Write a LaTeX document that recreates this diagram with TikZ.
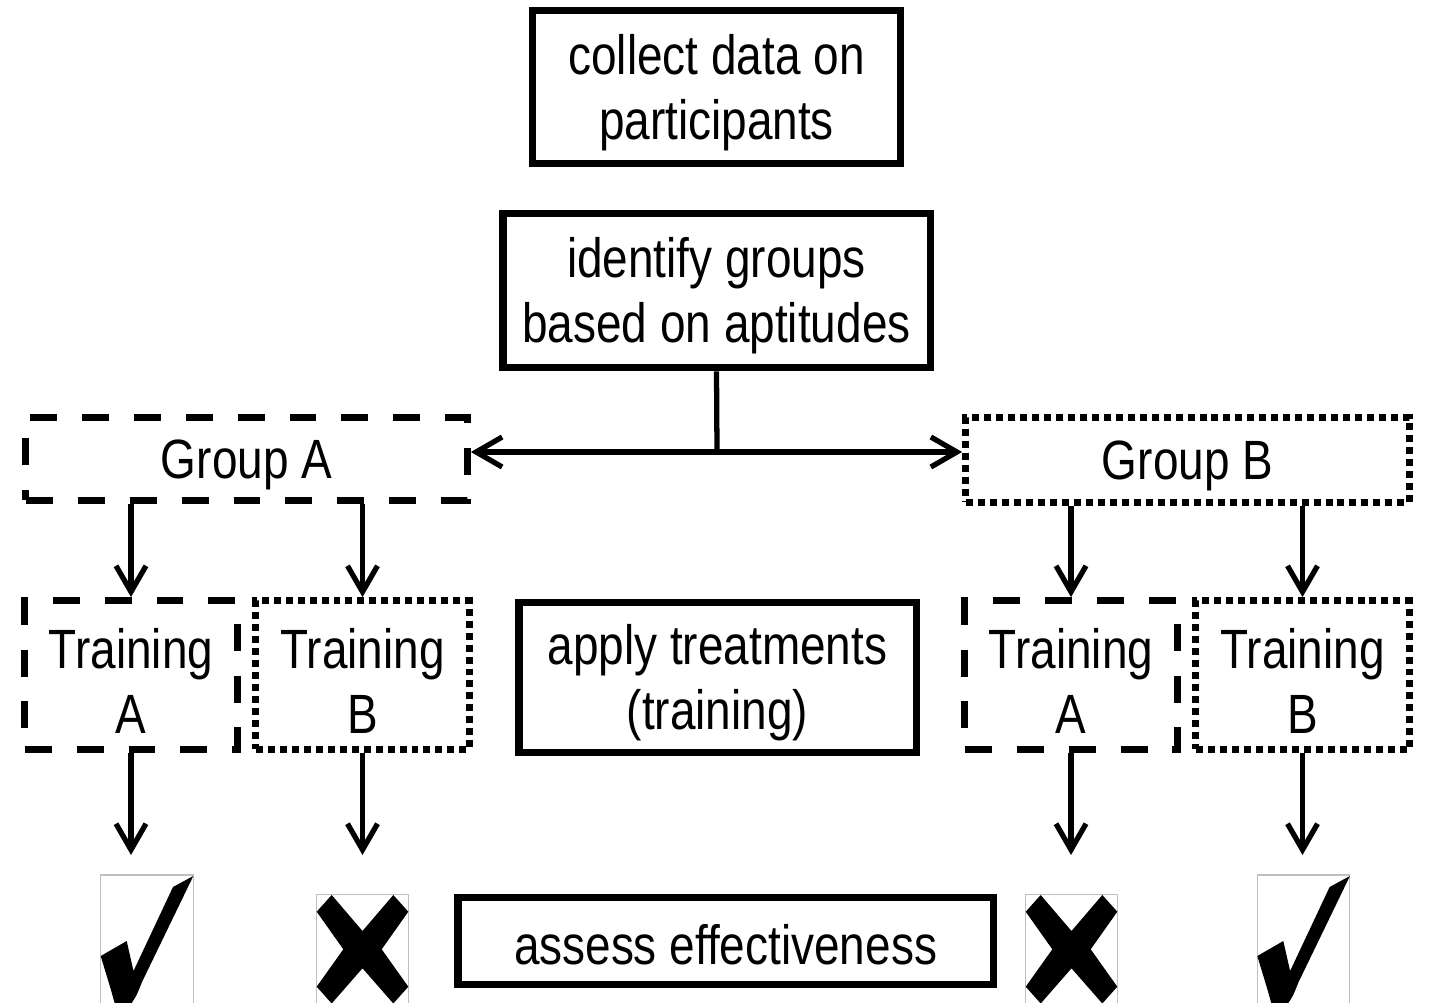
\documentclass[tikz,border=0pt]{standalone}
\usepackage{fontspec}
\setmainfont{Liberation Sans}[FakeStretch=0.83]
\usetikzlibrary{arrows.meta}
\tikzset{
  box/.style={draw, line width=4.5pt, inner sep=0pt},
  dashbox/.style={draw, inner sep=0pt, line width=3.9pt, dash pattern=on 0.54cm off 0.50cm},
  dotbox/.style={draw, inner sep=0pt, line width=3.9pt, dash pattern=on 0.14cm off 0.10cm},
  txt/.style={align=center, inner sep=0pt, font=\fontsize{31.5pt}{37pt}\selectfont},
  conn/.style={line width=3pt},
  arr/.style={conn, -{Straight Barb[length=0.52cm, width=0.6cm, line width=3pt]}},
  iconframe/.style={draw=black!25, line width=0.6pt},
}
\begin{document}
\begin{tikzpicture}[x=0.02cm, y=-0.02cm]
\useasboundingbox[fill=white] (0,0) rectangle (1429,1003);

% boxes
\node[box, minimum width=7.36cm, minimum height=3.06cm] (c1) at (716.5,87) {};
\node[box, minimum width=8.56cm, minimum height=3.08cm] (c2) at (716.5,290.5) {};
\node[dashbox, minimum width=8.84cm, minimum height=1.66cm] (gA) at (246.5,459) {};
\node[dotbox, minimum width=8.88cm, minimum height=1.70cm] (gB) at (1187.5,460) {};
\node[dashbox, minimum width=4.26cm, minimum height=2.98cm] (tAL) at (131,675) {};
\node[dotbox, minimum width=4.28cm, minimum height=2.98cm] (tBL) at (362.5,675) {};
\node[box, minimum width=7.96cm, minimum height=3.00cm] (ap) at (717.5,677.5) {};
\node[dashbox, minimum width=4.26cm, minimum height=2.98cm] (tAR) at (1071,675) {};
\node[dotbox, minimum width=4.28cm, minimum height=2.98cm] (tBR) at (1302.5,675) {};
\node[box, minimum width=10.72cm, minimum height=1.74cm] (as) at (725.5,941) {};

% texts
\node[txt] (c1t) at ([yshift=-0.11cm]c1.center) {collect data on\\participants};
\node[txt] (c2t) at ([yshift=-0.11cm]c2.center) {identify groups\\based on aptitudes};
\node[txt] (gAt) at ([yshift=-0.11cm]gA.center) {Group A};
\node[txt] (gBt) at ([yshift=-0.11cm]gB.center) {Group B};
\node[txt] (tALt) at ([yshift=-0.11cm]tAL.center) {Training\\A};
\node[txt] (tBLt) at ([yshift=-0.11cm]tBL.center) {Training\\B};
\node[txt] (apt) at ([yshift=-0.11cm]ap.center) {apply treatments\\(training)};
\node[txt] (tARt) at ([yshift=-0.11cm]tAR.center) {Training\\A};
\node[txt] (tBRt) at ([yshift=-0.11cm]tBR.center) {Training\\B};
\node[txt] (ast) at ([yshift=-0.08cm]as.center) {assess effectiveness};

% connectors
\coordinate (j) at (717,452);
\draw[conn] (c2.south) -- (j);
\draw[arr] (j) -- (j -| gA.east);
\draw[arr] (j) -- (j -| gB.west);

\draw[arr] (tAL.north |- gA.south) -- (tAL.north);
\draw[arr] (tBL.north |- gA.south) -- (tBL.north);
\draw[arr] (tAR.north |- gB.south) -- (tAR.north);
\draw[arr] (tBR.north |- gB.south) -- (tBR.north);

\coordinate (eAL) at (131,855);
\coordinate (eBL) at (362.5,855);
\coordinate (eAR) at (1071,855);
\coordinate (eBR) at (1302.5,855);
\draw[arr] (tAL.south) -- (eAL);
\draw[arr] (tBL.south) -- (eBL);
\draw[arr] (tAR.south) -- (eAR);
\draw[arr] (tBR.south) -- (eBR);

% icons
\begin{scope}
\clip (0,0) rectangle (1429,1003);
% left check
\draw[iconframe] (100.7,1010) -- (100.7,875) -- (193.3,875) -- (193.3,1010);
\fill (193.3,876) -- (173,887) -- (133.5,971) -- (126.7,941) -- (100.7,956)
  -- (111,990) -- (116,1008) -- (128,1008) .. controls (136,997) .. (142,982) -- cycle;
% right check
\begin{scope}[xshift=1156.6*0.02cm]
\draw[iconframe] (100.7,1010) -- (100.7,875) -- (193.3,875) -- (193.3,1010);
\fill (193.3,876) -- (173,887) -- (133.5,971) -- (126.7,941) -- (100.7,956)
  -- (111,990) -- (116,1008) -- (128,1008) .. controls (136,997) .. (142,982) -- cycle;
\end{scope}
% left cross
\draw[iconframe] (316.7,1010) -- (316.7,894.3) -- (408.3,894.3) -- (408.3,1010);
\fill (331.7,895) -- (362.5,931) -- (393.3,895) -- (408.3,911.7) -- (381.7,949.3)
  -- (408.3,986.7) -- (393.3,1003.5) -- (362.5,968.3) -- (331.7,1003.5) -- (316.7,986.7)
  -- (343.3,949.3) -- (316.7,911.7) -- cycle;
% right cross
\begin{scope}[xshift=709*0.02cm]
\draw[iconframe] (316.7,1010) -- (316.7,894.3) -- (408.3,894.3) -- (408.3,1010);
\fill (331.7,895) -- (362.5,931) -- (393.3,895) -- (408.3,911.7) -- (381.7,949.3)
  -- (408.3,986.7) -- (393.3,1003.5) -- (362.5,968.3) -- (331.7,1003.5) -- (316.7,986.7)
  -- (343.3,949.3) -- (316.7,911.7) -- cycle;
\end{scope}
\end{scope}
\end{tikzpicture}
\end{document}
